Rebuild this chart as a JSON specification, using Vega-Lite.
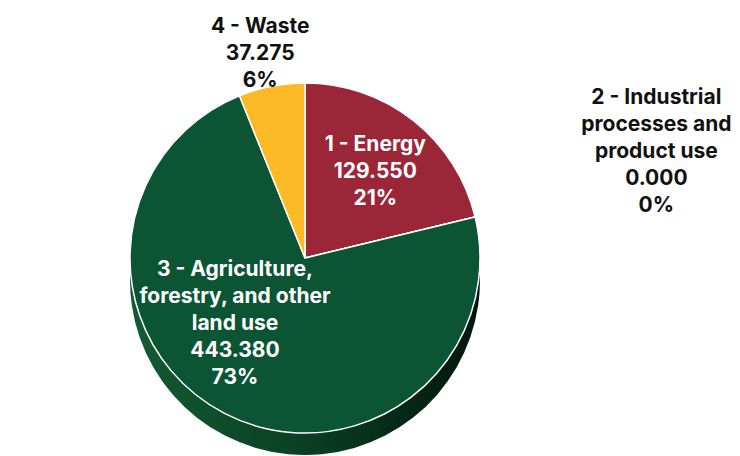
{
  "$schema": "https://vega.github.io/schema/vega-lite/v6.json",
  "width": 610,
  "height": 396,
  "padding": {"left": 0, "top": 60, "right": 130, "bottom": 0},
  "autosize": {"type": "none"},
  "background": "white",
  "config": {"view": {"stroke": null}, "font": "Inter"},
  "data": {
    "values": [
      {"category": "1 - Energy", "value": 129.55, "label": "1 - Energy\n129.550\n21%"},
      {"category": "2 - Industrial processes and product use", "value": 0, "label": "2 - Industrial\nprocesses and\nproduct use\n0.000\n0%"},
      {"category": "3 - Agriculture, forestry, and other land use", "value": 443.38, "label": "3 - Agriculture,\nforestry, and other\nland use\n443.380\n73%"},
      {"category": "4 - Waste", "value": 37.275, "label": "4 - Waste\n37.275\n6%"}
    ]
  },
  "encoding": {
    "theta": {"field": "value", "type": "quantitative", "stack": true}
  },
  "layer": [
    {
      "mark": {
        "type": "arc",
        "outerRadius": 175,
        "yOffset": 22,
        "fill": {
          "gradient": "linear",
          "x1": 0, "y1": 0, "x2": 1, "y2": 0,
          "stops": [
            {"offset": 0, "color": "#145a34"},
            {"offset": 0.5, "color": "#0a3f24"},
            {"offset": 1, "color": "#02170c"}
          ]
        }
      },
      "encoding": {"detail": {"field": "category", "type": "nominal"}}
    },
    {
      "mark": {"type": "arc", "outerRadius": 175, "stroke": "#ffffff", "strokeWidth": 1.5},
      "encoding": {
        "color": {
          "field": "category",
          "type": "nominal",
          "scale": {
            "domain": ["1 - Energy", "2 - Industrial processes and product use", "3 - Agriculture, forestry, and other land use", "4 - Waste"],
            "range": ["#9a2638", "#7f7f7f", "#0b5534", "#fbba26"]
          },
          "legend": null
        }
      }
    },
    {
      "mark": {"type": "text", "radius": 133, "thetaOffset": -0.11, "fontSize": 21, "fontWeight": "bold", "lineBreak": "\n", "lineHeight": 27, "color": "#ffffff"},
      "encoding": {
        "detail": {"field": "category", "type": "nominal"},
        "text": {"condition": {"test": "datum.category === '1 - Energy'", "field": "label"}, "value": ""}
      }
    },
    {
      "mark": {"type": "text", "radius": 71, "thetaOffset": 0.93, "fontSize": 21, "fontWeight": "bold", "lineBreak": "\n", "lineHeight": 27, "color": "#ffffff"},
      "encoding": {
        "detail": {"field": "category", "type": "nominal"},
        "text": {"condition": {"test": "datum.category === '3 - Agriculture, forestry, and other land use'", "field": "label"}, "value": ""}
      }
    },
    {
      "mark": {"type": "text", "radius": 235, "fontSize": 21, "fontWeight": "bold", "lineBreak": "\n", "lineHeight": 27, "color": "#111111"},
      "encoding": {
        "detail": {"field": "category", "type": "nominal"},
        "text": {"condition": {"test": "datum.category === '4 - Waste'", "field": "label"}, "value": ""}
      }
    },
    {
      "mark": {"type": "text", "radius": 386, "thetaOffset": -0.19, "fontSize": 21, "fontWeight": "bold", "lineBreak": "\n", "lineHeight": 27, "color": "#111111"},
      "encoding": {
        "detail": {"field": "category", "type": "nominal"},
        "text": {"condition": {"test": "datum.category === '2 - Industrial processes and product use'", "field": "label"}, "value": ""}
      }
    }
  ]
}
